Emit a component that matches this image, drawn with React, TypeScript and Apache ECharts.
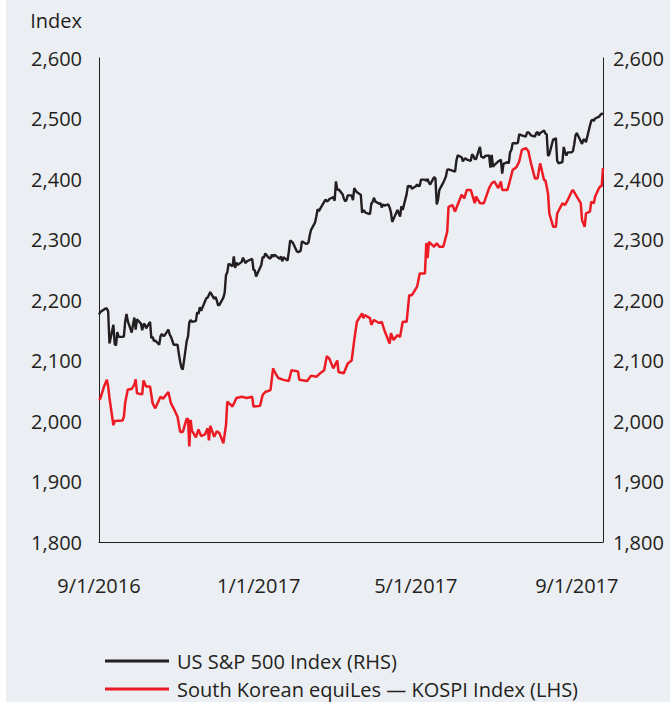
import React, { useEffect, useRef } from "react";
import * as echarts from "echarts";

const INK = "#231f20";
const RED = "#ed1c24";
const BG = "#ebeef2";
const FONT = "'Open Sans', 'Noto Sans', sans-serif";

const xMin = "2016-09-01";
const xMax = "2017-09-21";
const xTickDates = ["2016-09-01", "2017-01-01", "2017-05-01", "2017-09-01"];
const xTickLabels = ["9/1/2016", "1/1/2017", "5/1/2017", "9/1/2017"];
const yMin = 1800;
const yMax = 2600;
const yStep = 100;
const yTitle = "Index";
const spxName = "US S&P 500 Index (RHS)";
const kospiName = "South Korean equiLes \u2014 KOSPI Index (LHS)";

// US S&P 500 (right-hand scale)
const spx: [string, number][] = [
  ["2016-09-01", 2176], ["2016-09-02", 2180], ["2016-09-06", 2186], ["2016-09-07", 2186], ["2016-09-08", 2181],
  ["2016-09-09", 2128], ["2016-09-12", 2159], ["2016-09-13", 2127], ["2016-09-14", 2125], ["2016-09-15", 2147],
  ["2016-09-16", 2139], ["2016-09-19", 2139], ["2016-09-20", 2140], ["2016-09-21", 2164], ["2016-09-22", 2177],
  ["2016-09-23", 2165], ["2016-09-26", 2146], ["2016-09-27", 2160], ["2016-09-28", 2171], ["2016-09-29", 2151],
  ["2016-09-30", 2168], ["2016-10-03", 2161], ["2016-10-04", 2150], ["2016-10-05", 2160], ["2016-10-06", 2160],
  ["2016-10-07", 2153], ["2016-10-10", 2164], ["2016-10-11", 2137], ["2016-10-12", 2139], ["2016-10-13", 2132],
  ["2016-10-14", 2133], ["2016-10-17", 2126], ["2016-10-18", 2140], ["2016-10-19", 2144], ["2016-10-20", 2141],
  ["2016-10-21", 2141], ["2016-10-24", 2151], ["2016-10-25", 2143], ["2016-10-26", 2139], ["2016-10-27", 2133],
  ["2016-10-28", 2126], ["2016-10-31", 2126], ["2016-11-01", 2111], ["2016-11-02", 2098], ["2016-11-03", 2088],
  ["2016-11-04", 2085], ["2016-11-07", 2132], ["2016-11-08", 2140], ["2016-11-09", 2163], ["2016-11-10", 2167],
  ["2016-11-11", 2164], ["2016-11-14", 2165], ["2016-11-15", 2180], ["2016-11-16", 2177], ["2016-11-17", 2188],
  ["2016-11-18", 2182], ["2016-11-21", 2198], ["2016-11-22", 2203], ["2016-11-23", 2204], ["2016-11-25", 2213],
  ["2016-11-28", 2202], ["2016-11-29", 2205], ["2016-11-30", 2199], ["2016-12-01", 2191], ["2016-12-02", 2192],
  ["2016-12-05", 2204], ["2016-12-06", 2212], ["2016-12-07", 2241], ["2016-12-08", 2246], ["2016-12-09", 2260],
  ["2016-12-12", 2256], ["2016-12-13", 2272], ["2016-12-14", 2253], ["2016-12-15", 2262], ["2016-12-16", 2258],
  ["2016-12-19", 2263], ["2016-12-20", 2270], ["2016-12-21", 2265], ["2016-12-22", 2261], ["2016-12-23", 2264],
  ["2016-12-27", 2268], ["2016-12-28", 2250], ["2016-12-29", 2249], ["2016-12-30", 2239], ["2017-01-03", 2258],
  ["2017-01-04", 2271], ["2017-01-05", 2270], ["2017-01-06", 2277], ["2017-01-09", 2269], ["2017-01-10", 2269],
  ["2017-01-11", 2275], ["2017-01-12", 2271], ["2017-01-13", 2275], ["2017-01-17", 2268], ["2017-01-18", 2272],
  ["2017-01-19", 2264], ["2017-01-20", 2271], ["2017-01-23", 2265], ["2017-01-24", 2280], ["2017-01-25", 2298],
  ["2017-01-26", 2297], ["2017-01-27", 2295], ["2017-01-30", 2281], ["2017-01-31", 2279], ["2017-02-01", 2280],
  ["2017-02-02", 2281], ["2017-02-03", 2297], ["2017-02-06", 2293], ["2017-02-07", 2293], ["2017-02-08", 2295],
  ["2017-02-09", 2307], ["2017-02-10", 2316], ["2017-02-13", 2328], ["2017-02-14", 2338], ["2017-02-15", 2350],
  ["2017-02-16", 2347], ["2017-02-17", 2351], ["2017-02-21", 2366], ["2017-02-22", 2363], ["2017-02-23", 2364],
  ["2017-02-24", 2367], ["2017-02-27", 2370], ["2017-02-28", 2364], ["2017-03-01", 2396], ["2017-03-02", 2382],
  ["2017-03-03", 2383], ["2017-03-06", 2375], ["2017-03-07", 2368], ["2017-03-08", 2363], ["2017-03-09", 2365],
  ["2017-03-10", 2373], ["2017-03-13", 2373], ["2017-03-14", 2365], ["2017-03-15", 2385], ["2017-03-16", 2381],
  ["2017-03-17", 2378], ["2017-03-20", 2374], ["2017-03-21", 2344], ["2017-03-22", 2349], ["2017-03-23", 2346],
  ["2017-03-24", 2344], ["2017-03-27", 2342], ["2017-03-28", 2359], ["2017-03-29", 2362], ["2017-03-30", 2369],
  ["2017-03-31", 2363], ["2017-04-03", 2359], ["2017-04-04", 2360], ["2017-04-05", 2353], ["2017-04-06", 2358],
  ["2017-04-07", 2356], ["2017-04-10", 2358], ["2017-04-11", 2353], ["2017-04-12", 2345], ["2017-04-13", 2329],
  ["2017-04-17", 2349], ["2017-04-18", 2343], ["2017-04-19", 2338], ["2017-04-20", 2355], ["2017-04-21", 2349],
  ["2017-04-24", 2375], ["2017-04-25", 2389], ["2017-04-26", 2387], ["2017-04-27", 2389], ["2017-04-28", 2384],
  ["2017-05-01", 2388], ["2017-05-02", 2391], ["2017-05-03", 2388], ["2017-05-04", 2389], ["2017-05-05", 2399],
  ["2017-05-08", 2399], ["2017-05-09", 2397], ["2017-05-10", 2400], ["2017-05-11", 2394], ["2017-05-12", 2391],
  ["2017-05-15", 2403], ["2017-05-16", 2401], ["2017-05-17", 2358], ["2017-05-18", 2366], ["2017-05-19", 2382],
  ["2017-05-22", 2394], ["2017-05-23", 2399], ["2017-05-24", 2404], ["2017-05-25", 2415], ["2017-05-26", 2416],
  ["2017-05-30", 2413], ["2017-05-31", 2412], ["2017-06-01", 2430], ["2017-06-02", 2439], ["2017-06-05", 2436],
  ["2017-06-06", 2429], ["2017-06-07", 2433], ["2017-06-08", 2434], ["2017-06-09", 2432], ["2017-06-12", 2430],
  ["2017-06-13", 2441], ["2017-06-14", 2438], ["2017-06-15", 2433], ["2017-06-16", 2433], ["2017-06-19", 2453],
  ["2017-06-20", 2437], ["2017-06-21", 2436], ["2017-06-22", 2435], ["2017-06-23", 2438], ["2017-06-26", 2439],
  ["2017-06-27", 2419], ["2017-06-28", 2440], ["2017-06-29", 2420], ["2017-06-30", 2423], ["2017-07-03", 2429],
  ["2017-07-05", 2432], ["2017-07-06", 2409], ["2017-07-07", 2425], ["2017-07-10", 2428], ["2017-07-11", 2426],
  ["2017-07-12", 2444], ["2017-07-13", 2448], ["2017-07-14", 2459], ["2017-07-17", 2459], ["2017-07-18", 2460],
  ["2017-07-19", 2474], ["2017-07-20", 2473], ["2017-07-21", 2472], ["2017-07-24", 2470], ["2017-07-25", 2477],
  ["2017-07-26", 2477], ["2017-07-27", 2475], ["2017-07-28", 2472], ["2017-07-31", 2470], ["2017-08-01", 2476],
  ["2017-08-02", 2478], ["2017-08-03", 2472], ["2017-08-04", 2476], ["2017-08-07", 2480], ["2017-08-08", 2475],
  ["2017-08-09", 2474], ["2017-08-10", 2438], ["2017-08-11", 2441], ["2017-08-14", 2466], ["2017-08-15", 2465],
  ["2017-08-16", 2468], ["2017-08-17", 2430], ["2017-08-18", 2426], ["2017-08-21", 2428], ["2017-08-22", 2453],
  ["2017-08-23", 2444], ["2017-08-24", 2439], ["2017-08-25", 2444], ["2017-08-28", 2444], ["2017-08-29", 2446],
  ["2017-08-30", 2457], ["2017-08-31", 2472], ["2017-09-01", 2476], ["2017-09-05", 2458], ["2017-09-06", 2465],
  ["2017-09-07", 2465], ["2017-09-08", 2461], ["2017-09-11", 2488], ["2017-09-12", 2496], ["2017-09-13", 2498],
  ["2017-09-14", 2496], ["2017-09-15", 2500], ["2017-09-18", 2503], ["2017-09-19", 2506], ["2017-09-20", 2508],
  ["2017-09-21", 2507],
];

// South Korean equities, KOSPI (left-hand scale)
const kospi: [string, number][] = [
  ["2016-09-01", 2035], ["2016-09-02", 2037], ["2016-09-05", 2058], ["2016-09-07", 2068], ["2016-09-08", 2057],
  ["2016-09-09", 2038], ["2016-09-12", 1993], ["2016-09-13", 2000], ["2016-09-19", 2001], ["2016-09-20", 2007],
  ["2016-09-21", 2030], ["2016-09-23", 2052], ["2016-09-26", 2053], ["2016-09-28", 2060], ["2016-09-29", 2069],
  ["2016-09-30", 2046], ["2016-10-04", 2044], ["2016-10-05", 2067], ["2016-10-07", 2057], ["2016-10-10", 2057],
  ["2016-10-12", 2029], ["2016-10-14", 2021], ["2016-10-18", 2040], ["2016-10-20", 2037], ["2016-10-24", 2048],
  ["2016-10-26", 2029], ["2016-10-28", 2021], ["2016-10-31", 2007], ["2016-11-02", 1982], ["2016-11-04", 1982],
  ["2016-11-07", 2004], ["2016-11-08", 2003], ["2016-11-09", 1958], ["2016-11-10", 2002], ["2016-11-11", 1984],
  ["2016-11-14", 1973], ["2016-11-16", 1986], ["2016-11-18", 1975], ["2016-11-21", 1978], ["2016-11-23", 1988],
  ["2016-11-24", 1968], ["2016-11-25", 1992], ["2016-11-28", 1974], ["2016-11-30", 1983], ["2016-12-02", 1980],
  ["2016-12-05", 1963], ["2016-12-07", 1993], ["2016-12-08", 2032], ["2016-12-12", 2024], ["2016-12-15", 2038],
  ["2016-12-19", 2040], ["2016-12-23", 2038], ["2016-12-27", 2040], ["2016-12-28", 2024], ["2017-01-02", 2025],
  ["2017-01-04", 2043], ["2017-01-06", 2048], ["2017-01-10", 2051], ["2017-01-12", 2087], ["2017-01-13", 2082],
  ["2017-01-16", 2071], ["2017-01-20", 2068], ["2017-01-24", 2066], ["2017-01-26", 2084], ["2017-01-31", 2082],
  ["2017-02-01", 2068], ["2017-02-07", 2066], ["2017-02-10", 2075], ["2017-02-14", 2073], ["2017-02-17", 2079],
  ["2017-02-20", 2084], ["2017-02-22", 2107], ["2017-02-24", 2103], ["2017-02-27", 2087], ["2017-03-02", 2100],
  ["2017-03-03", 2081], ["2017-03-07", 2079], ["2017-03-10", 2095], ["2017-03-13", 2100], ["2017-03-15", 2134],
  ["2017-03-17", 2164], ["2017-03-21", 2178], ["2017-03-22", 2170], ["2017-03-23", 2175], ["2017-03-27", 2170],
  ["2017-03-28", 2159], ["2017-03-30", 2167], ["2017-04-03", 2162], ["2017-04-05", 2164], ["2017-04-07", 2150],
  ["2017-04-11", 2128], ["2017-04-12", 2145], ["2017-04-14", 2134], ["2017-04-17", 2142], ["2017-04-19", 2139],
  ["2017-04-21", 2164], ["2017-04-24", 2164], ["2017-04-26", 2208], ["2017-04-28", 2208], ["2017-05-02", 2222],
  ["2017-05-04", 2244], ["2017-05-08", 2244], ["2017-05-09", 2294], ["2017-05-10", 2269], ["2017-05-11", 2296],
  ["2017-05-15", 2288], ["2017-05-17", 2294], ["2017-05-19", 2288], ["2017-05-22", 2288], ["2017-05-25", 2313],
  ["2017-05-26", 2354], ["2017-05-29", 2357], ["2017-05-31", 2346], ["2017-06-01", 2352], ["2017-06-05", 2374],
  ["2017-06-07", 2368], ["2017-06-09", 2382], ["2017-06-12", 2382], ["2017-06-15", 2360], ["2017-06-16", 2371],
  ["2017-06-19", 2360], ["2017-06-22", 2360], ["2017-06-26", 2385], ["2017-06-28", 2393], ["2017-06-30", 2396],
  ["2017-07-03", 2385], ["2017-07-05", 2396], ["2017-07-06", 2382], ["2017-07-10", 2382], ["2017-07-12", 2398],
  ["2017-07-14", 2415], ["2017-07-17", 2420], ["2017-07-19", 2429], ["2017-07-21", 2448], ["2017-07-24", 2451],
  ["2017-07-26", 2446], ["2017-07-28", 2426], ["2017-07-31", 2401], ["2017-08-02", 2401], ["2017-08-04", 2426],
  ["2017-08-07", 2398], ["2017-08-08", 2398], ["2017-08-10", 2376], ["2017-08-11", 2343], ["2017-08-14", 2321],
  ["2017-08-16", 2321], ["2017-08-17", 2343], ["2017-08-21", 2360], ["2017-08-23", 2357], ["2017-08-25", 2365],
  ["2017-08-28", 2379], ["2017-08-29", 2382], ["2017-09-01", 2371], ["2017-09-04", 2360], ["2017-09-05", 2332],
  ["2017-09-07", 2321], ["2017-09-08", 2343], ["2017-09-11", 2346], ["2017-09-12", 2362], ["2017-09-14", 2360],
  ["2017-09-15", 2371], ["2017-09-18", 2385], ["2017-09-19", 2388], ["2017-09-20", 2388], ["2017-09-21", 2418],
];

const toTs = (s: string) => {
  const [y, m, d] = s.split("-").map(Number);
  return new Date(y, m - 1, d).getTime();
};

export default function App() {
  const ref = useRef<HTMLDivElement>(null);

  useEffect(() => {
    if (!ref.current) return;
    const chart = echarts.init(ref.current, null, { renderer: "svg" });
    const tickTs = xTickDates.map(toTs);
    const fmtX = (v: number) => {
      for (let i = 0; i < tickTs.length; i++) {
        if (Math.abs(tickTs[i] - v) < 43200000) return xTickLabels[i];
      }
      return "";
    };
    const fmtY = (v: number) => v.toLocaleString("en-US");
    const yAxisBase = (position: "left" | "right", margin: number) => ({
      type: "value",
      position,
      min: yMin,
      max: yMax,
      interval: yStep,
      axisLine: { show: true, lineStyle: { color: INK, width: 1 } },
      axisTick: { show: false },
      splitLine: { show: false },
      axisLabel: {
        color: INK,
        fontSize: 20,
        fontFamily: FONT,
        margin,
        padding: [5, 0, 0, 0],
        formatter: fmtY,
      },
    });

    chart.setOption({
      animation: false,
      backgroundColor: BG,
      textStyle: { fontFamily: FONT },
      grid: { left: 93, right: 67, top: 58, bottom: 160, containLabel: false },
      graphic: [
        {
          type: "text",
          right: 664 - 76,
          top: 10,
          style: { text: yTitle, fill: INK, font: `20px ${FONT}` },
        },
      ],
      xAxis: {
        type: "value",
        min: toTs(xMin),
        max: toTs(xMax),
        axisLine: { show: true, lineStyle: { color: INK, width: 1 } },
        axisTick: { show: false },
        splitLine: { show: false },
        axisLabel: {
          customValues: tickTs,
          formatter: fmtX,
          color: INK,
          fontSize: 20,
          fontFamily: FONT,
          margin: 33,
          hideOverlap: false,
        },
      },
      yAxis: [yAxisBase("left", 17), yAxisBase("right", 10)],
      legend: {
        orient: "vertical",
        left: 99,
        top: 651,
        height: 51,
        padding: 0,
        itemGap: 8,
        itemWidth: 64,
        itemHeight: 3,
        icon: "rect",
        textStyle: { color: INK, fontSize: 20, fontFamily: FONT, padding: [0, 0, 0, 3] },
        data: [spxName, kospiName],
      },
      series: [
        {
          name: spxName,
          type: "line",
          yAxisIndex: 1,
          data: spx.map(([d, v]) => [toTs(d), v]),
          showSymbol: false,
          symbol: "none",
          lineStyle: { color: INK, width: 2.4 },
          itemStyle: { color: INK },
          z: 3,
        },
        {
          name: kospiName,
          type: "line",
          yAxisIndex: 0,
          data: kospi.map(([d, v]) => [toTs(d), v]),
          showSymbol: false,
          symbol: "none",
          lineStyle: { color: RED, width: 2.5 },
          itemStyle: { color: RED },
          z: 2,
        },
      ],
    });
    return () => chart.dispose();
  }, []);

  return (
    <div style={{ position: "fixed", left: 0, top: 0, width: 670, height: 702, background: "#ffffff" }}>
      <div ref={ref} style={{ position: "absolute", left: 6, top: 0, width: 664, height: 702 }} />
    </div>
  );
}
